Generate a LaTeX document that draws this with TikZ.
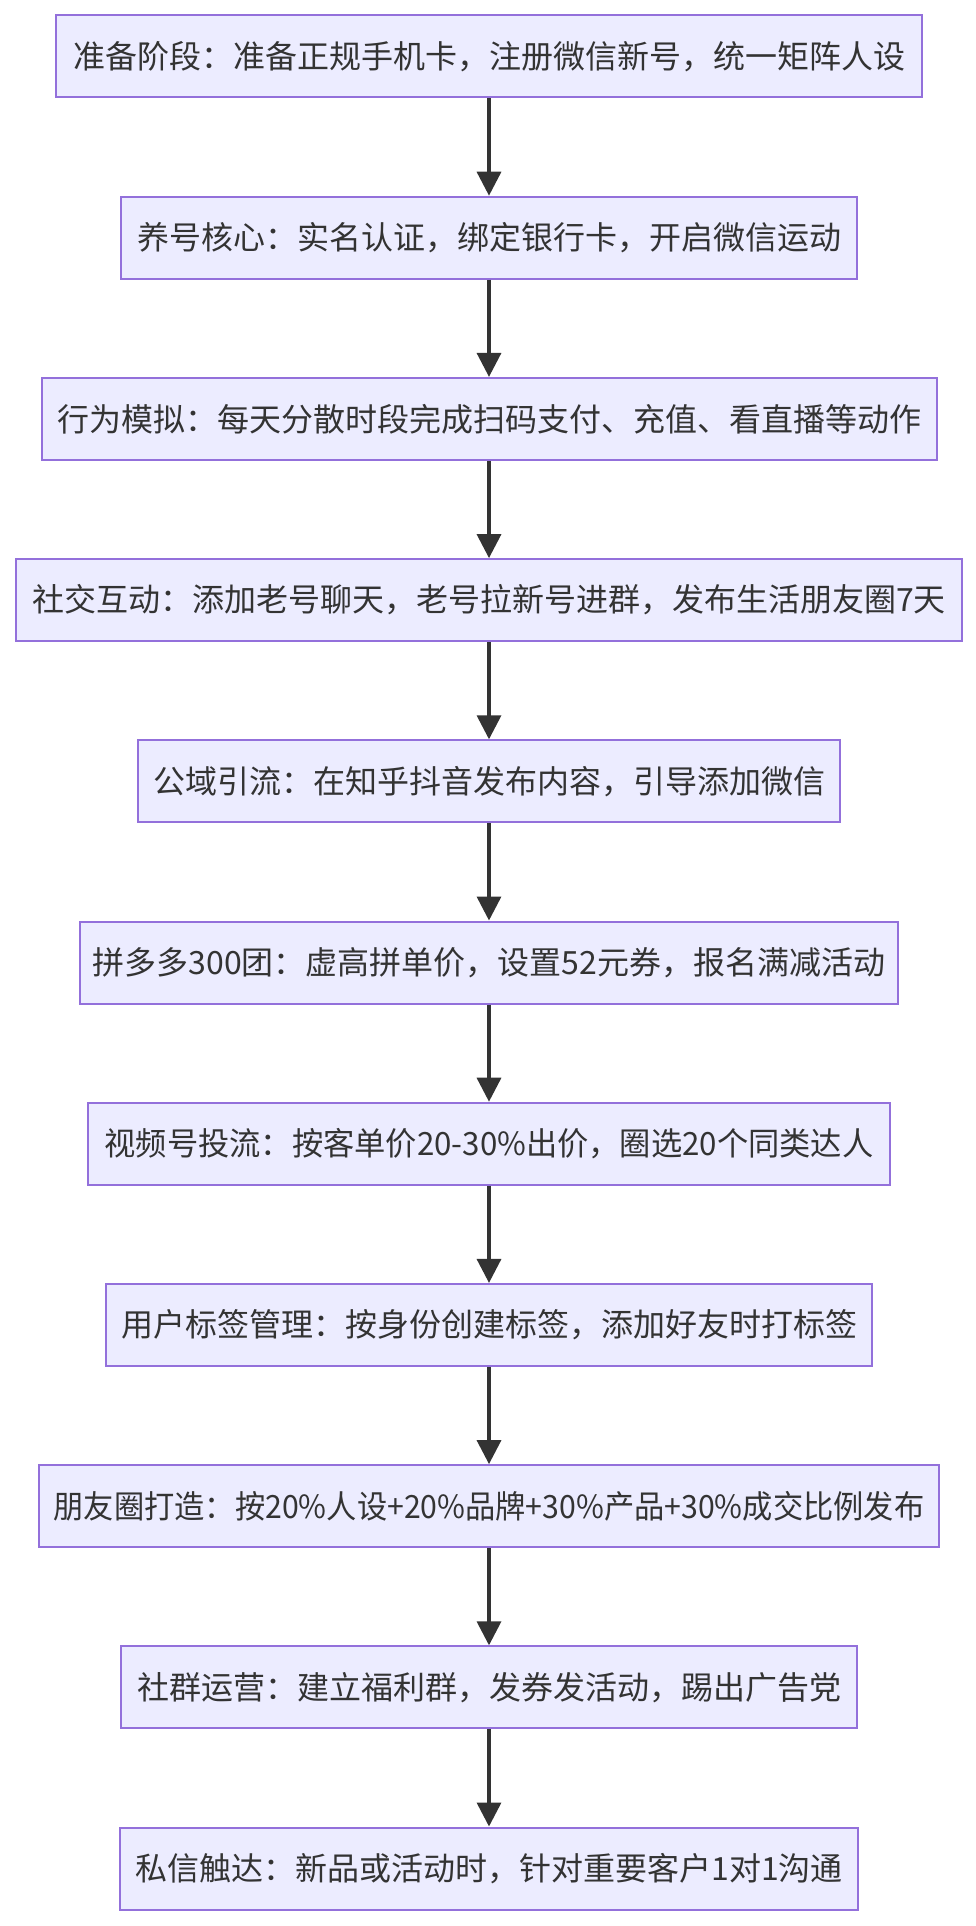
\documentclass[tikz,border=0pt]{standalone}
\usepackage{fontspec}
\usepackage{graphicx}
\setmainfont{Noto Sans CJK SC}
\usetikzlibrary{arrows.meta}
\definecolor{boxfill}{HTML}{ECECFF}
\definecolor{boxline}{HTML}{9370DB}
\definecolor{ink}{HTML}{333333}
\begin{document}
\begin{tikzpicture}[x=1pt,y=-1pt,
  stepbox/.style={draw=boxline, fill=boxfill, line width=2pt, inner sep=0pt,
    minimum height=82pt, text=ink, font=\fontsize{32}{38}\selectfont, anchor=center},
  flowarrow/.style={draw=ink, line width=3.5pt, -{Triangle[length=24pt,width=24pt]}}]
\useasboundingbox (0,0) rectangle (976,1926);
\fill[white] (0,0) rectangle (976,1926);
\node[stepbox, minimum width=866pt] (n1) at (489,56.5) {准备阶段：准备正规手机卡，注册微信新号，统一矩阵人设};
\node[stepbox, minimum width=736pt] (n2) at (489,237.7) {养号核心：实名认证，绑定银行卡，开启微信运动};
\node[stepbox, minimum width=895pt] (n3) at (489,418.9) {行为模拟：每天分散时段完成扫码支付、充值、看直播等动作};
\node[stepbox, minimum width=946pt] (n4) at (489,600.1) {社交互动：添加老号聊天，老号拉新号进群，发布生活朋友圈7天};
\node[stepbox, minimum width=702pt] (n5) at (489,781.3) {公域引流：在知乎抖音发布内容，引导添加微信};
\node[stepbox, minimum width=818pt] (n6) at (489,962.5) {拼多多300团：虚高拼单价，设置52元券，报名满减活动};
\node[stepbox, minimum width=802pt] (n7) at (489,1143.7) {\scalebox{0.977}[1]{视频号投流：按客单价20-30\%出价，圈选20个同类达人}};
\node[stepbox, minimum width=766pt] (n8) at (489,1324.9) {用户标签管理：按身份创建标签，添加好友时打标签};
\node[stepbox, minimum width=900pt] (n9) at (489,1506.1) {\scalebox{0.945}[1]{朋友圈打造：按20\%人设+20\%品牌+30\%产品+30\%成交比例发布}};
\node[stepbox, minimum width=736pt] (n10) at (489,1687.3) {社群运营：建立福利群，发券发活动，踢出广告党};
\node[stepbox, minimum width=738pt] (n11) at (489,1868.5) {私信触达：新品或活动时，针对重要客户1对1沟通};
\foreach \a/\b in {n1/n2,n2/n3,n3/n4,n4/n5,n5/n6,n6/n7,n7/n8,n8/n9,n9/n10,n10/n11}
  \draw[flowarrow] (\a.south) -- (\b.north);
\end{tikzpicture}
\end{document}
